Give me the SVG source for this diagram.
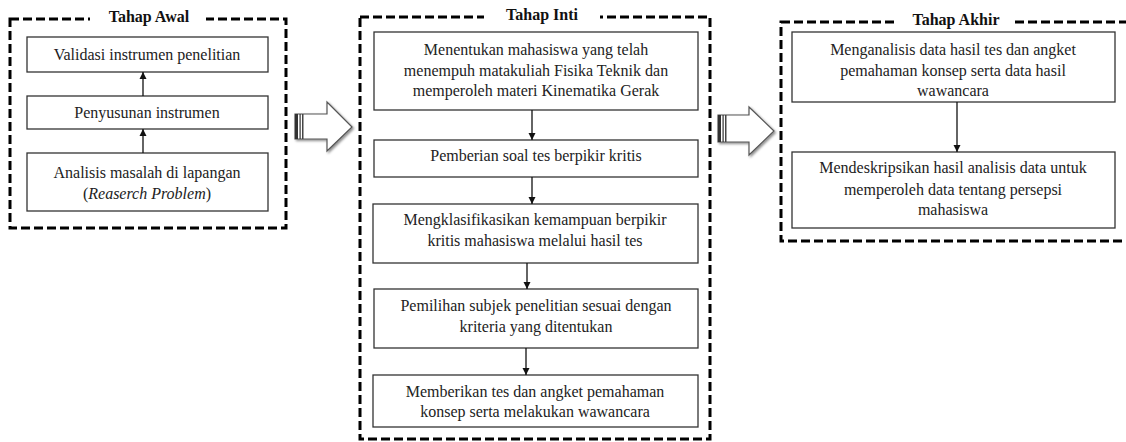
<svg xmlns="http://www.w3.org/2000/svg" width="1126" height="442" viewBox="0 0 1126 442">
<defs>
<style>
.frame{fill:none;stroke:#000;stroke-width:3;stroke-dasharray:9 4}
.box{fill:#fff;stroke:#333;stroke-width:1.3}
.t{font-family:'Liberation Serif','DejaVu Serif',serif;font-size:16px;fill:#222;text-anchor:middle}
.title{font-family:'Liberation Serif','DejaVu Serif',serif;font-size:16px;font-weight:bold;fill:#111;text-anchor:middle}
.con{stroke:#111;stroke-width:1.3;fill:none;marker-end:url(#ah)}
.blk{fill:#fff;stroke:#555;stroke-width:1.2}
</style>
<marker id="ah" viewBox="0 0 10 10" refX="10" refY="5" markerWidth="7" markerHeight="8" markerUnits="userSpaceOnUse" orient="auto">
<path d="M0,0 L10,5 L0,10 z" fill="#111"/>
</marker>
<filter id="sh" x="-20%" y="-20%" width="150%" height="150%">
<feDropShadow dx="1.5" dy="1.5" stdDeviation="1.2" flood-color="#000" flood-opacity="0.45"/>
</filter>
</defs>

<g id="tahap-awal">
<rect class="frame" x="10" y="19" width="276" height="209"/>
<rect x="90" y="8" width="116" height="20" fill="#fff"/>
<text class="title" x="149" y="22">Tahap Awal</text>
</g>
<g id="tahap-inti">
<rect class="frame" x="360" y="17" width="350" height="422"/>
<rect x="484" y="6" width="116" height="20" fill="#fff"/>
<text class="title" x="542" y="20">Tahap Inti</text>
</g>
<g id="tahap-akhir">
<rect class="frame" x="781" y="22" width="360" height="219"/>
<rect x="898" y="11" width="114" height="20" fill="#fff"/>
<text class="title" x="956" y="25">Tahap Akhir</text>
</g>

<g id="a1"><rect class="box" x="27" y="37" width="241" height="35"/>
<text class="t" x="147" y="60">Validasi instrumen penelitian</text></g>
<g id="a2"><rect class="box" x="27" y="96" width="241" height="33"/>
<text class="t" x="147" y="118">Penyusunan instrumen</text></g>
<g id="a3"><rect class="box" x="27" y="153" width="241" height="58"/>
<text class="t" x="147" y="178">Analisis masalah di lapangan</text>
<text class="t" x="147" y="199">(<tspan font-style="italic">Reaserch Problem</tspan>)</text></g>

<g id="i1"><rect class="box" x="374" y="32" width="324" height="78"/>
<text class="t" x="536" y="55">Menentukan mahasiswa yang telah</text>
<text class="t" x="536" y="76">menempuh matakuliah Fisika Teknik dan</text>
<text class="t" x="536" y="96">memperoleh materi Kinematika Gerak</text></g>
<g id="i2"><rect class="box" x="374" y="140" width="324" height="37"/>
<text class="t" x="536" y="161">Pemberian soal tes berpikir kritis</text></g>
<g id="i3"><rect class="box" x="373" y="204" width="325" height="59"/>
<text class="t" x="535" y="225">Mengklasifikasikan kemampuan berpikir</text>
<text class="t" x="535" y="246">kritis mahasiswa melalui hasil tes</text></g>
<g id="i4"><rect class="box" x="374" y="289" width="324" height="59"/>
<text class="t" x="536" y="311">Pemilihan subjek penelitian sesuai dengan</text>
<text class="t" x="536" y="332">kriteria yang ditentukan</text></g>
<g id="i5"><rect class="box" x="373" y="375" width="325" height="52"/>
<text class="t" x="535" y="397">Memberikan tes dan angket pemahaman</text>
<text class="t" x="535" y="417">konsep serta melakukan wawancara</text></g>

<g id="k1"><rect class="box" x="792" y="32" width="323" height="70"/>
<text class="t" x="953" y="55">Menganalisis data hasil tes dan angket</text>
<text class="t" x="953" y="76">pemahaman konsep serta data hasil</text>
<text class="t" x="953" y="96">wawancara</text></g>
<g id="k2"><rect class="box" x="792" y="152" width="323" height="76"/>
<text class="t" x="953" y="173">Mendeskripsikan hasil analisis data untuk</text>
<text class="t" x="953" y="195">memperoleh data tentang persepsi</text>
<text class="t" x="953" y="215">mahasiswa</text></g>

<g id="block-arrow-1" filter="url(#sh)">
<path class="blk" d="M295,114 L327,114 L327,102 L352,127 L327,151 L327,139 L295,139 z"/>
<rect x="295" y="114" width="3" height="25" fill="#333"/>
<rect x="299.5" y="114" width="1.2" height="25" fill="#333"/>
<rect x="302" y="114" width="1.5" height="25" fill="#444"/>
</g>
<g id="block-arrow-2" filter="url(#sh)">
<path class="blk" d="M718,115 L749,115 L749,107 L774,131 L749,155 L749,142 L718,142 z"/>
<rect x="718" y="115" width="3" height="27" fill="#333"/>
<rect x="722.5" y="115" width="1.2" height="27" fill="#333"/>
<rect x="725" y="115" width="1.5" height="27" fill="#444"/>
</g>

<g id="connectors">
<line class="con" x1="143" y1="96" x2="143" y2="72"/>
<line class="con" x1="143" y1="153" x2="143" y2="129"/>
<line class="con" x1="532" y1="110" x2="532" y2="140"/>
<line class="con" x1="532" y1="177" x2="532" y2="204"/>
<line class="con" x1="527" y1="263" x2="527" y2="289"/>
<line class="con" x1="526" y1="348" x2="526" y2="375"/>
<line class="con" x1="957" y1="102" x2="957" y2="152"/>
</g>
</svg>
